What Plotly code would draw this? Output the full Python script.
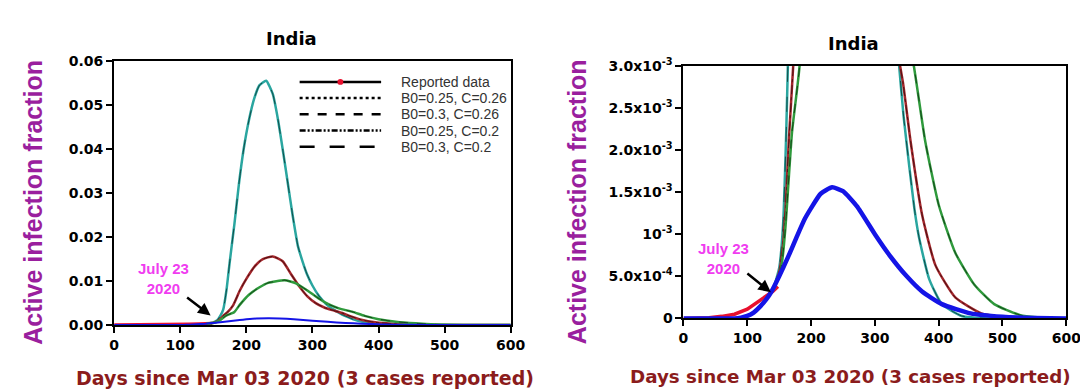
import plotly.graph_objects as go

# ---------------- data ----------------
reported_days = [0, 20, 40, 60, 80, 100, 113, 128, 140, 148]
reported_vals = [0, 2e-6, 8e-6, 2.5e-5, 5e-5, 1.1e-4, 1.8e-4, 2.5e-4, 3.2e-4, 3.8e-4]

blue_days = [0, 80, 90, 100, 110, 120, 130, 138, 150, 164, 177, 190, 200, 215, 233, 250, 272, 300, 323, 350, 374, 405, 450, 500, 550, 600]
blue_vals = [0, 0, 1e-5, 3e-5, 7e-5, 1.4e-4, 2.3e-4, 3.2e-4, 5e-4, 7.3e-4, 9.6e-4, 1.18e-3, 1.31e-3, 1.48e-3, 1.556e-3, 1.51e-3, 1.33e-3, 1.0e-3, 7.5e-4, 5e-4, 3.2e-4, 1.7e-4, 6e-5, 2e-5, 5e-6, 0]

teal_days = [140, 150, 156, 161, 165, 170, 175, 182, 189, 196, 204, 212, 220, 230, 240, 248, 256, 263, 270, 278, 285, 292, 300, 310, 320, 330, 338, 345, 354, 362, 369, 385, 405, 436, 480, 600]
teal_vals = [3.3e-4, 6e-4, 1.1e-3, 2.2e-3, 3.5e-3, 8e-3, 0.0145, 0.023, 0.0323, 0.040, 0.0466, 0.0515, 0.0545, 0.0555, 0.0525, 0.0466, 0.039, 0.032, 0.025, 0.018, 0.0145, 0.0115, 0.0090, 0.0066, 0.0049, 0.0037, 0.003, 0.0024, 0.0018, 0.0013, 9.7e-4, 4.7e-4, 1.7e-4, 3e-5, 0, 0]

brown_days = [140, 150, 155, 160, 165, 172, 180, 190, 200, 213, 225, 240, 255, 268, 280, 292, 305, 318, 330, 344, 356, 374, 395, 426, 467, 520, 600]
brown_vals = [3.3e-4, 5.5e-4, 8e-4, 1.3e-3, 2.1e-3, 3e-3, 4.5e-3, 7.8e-3, 0.0105, 0.0134, 0.015, 0.0156, 0.0145, 0.0115, 0.0088, 0.0066, 0.0050, 0.0040, 0.0034, 0.0028, 0.0021, 1.23e-3, 6.3e-4, 2.5e-4, 6e-5, 0, 0]

green_days = [140, 150, 155, 160, 170, 182, 190, 204, 220, 233, 258, 275, 293, 310, 325, 340, 361, 379, 400, 426, 456, 487, 528, 580, 600]
green_vals = [3.3e-4, 5e-4, 7e-4, 1.1e-3, 2.2e-3, 3.0e-3, 4.6e-3, 6.9e-3, 8.6e-3, 9.6e-3, 0.0102, 0.0095, 0.0078, 0.006, 0.0047, 0.0038, 0.003, 2.1e-3, 1.35e-3, 7.8e-4, 4e-4, 1.7e-4, 4e-5, 0, 0]

legend_labels = ["Reported data", "B0=0.25, C=0.26", "B0=0.3, C=0.26", "B0=0.25, C=0.2", "B0=0.3, C=0.2"]
legend_dashes = ["solid", "dot", "dash", "6px,2px,2px,2px,2px,2px", "longdash"]

x_ticks = [0, 100, 200, 300, 400, 500, 600]
left_y_ticks = [0, 0.01, 0.02, 0.03, 0.04, 0.05, 0.06]
right_y_ticks = [0, 5e-4, 1e-3, 1.5e-3, 2e-3, 2.5e-3, 3e-3]
right_y_text = ["0", "5.0x10<sup>-4</sup>", "10<sup>-3</sup>", "1.5x10<sup>-3</sup>",
                "2.0x10<sup>-3</sup>", "2.5x10<sup>-3</sup>", "3.0x10<sup>-3</sup>"]

title_text = "India"
x_title = "Days since Mar 03 2020 (3 cases reported)"
y_title = "Active infection fraction"
note_text = "July 23<br>2020"

# ---------------- styling ----------------
FONT = "Liberation Sans, Arial, sans-serif"
WIDE = "DejaVu Sans, Liberation Sans, sans-serif"
TEAL = "#2aa6a0"
BROWN = "#a3262b"
GREEN = "#2f9a3c"
BLUE = "#1414e6"
RED = "#e8102e"

fig = go.Figure()

models = [
    (teal_days, teal_vals, TEAL, "longdash"),
    (brown_days, brown_vals, BROWN, "dashdot"),
    (green_days, green_vals, GREEN, "dash"),
]

for xa, ya, blue_w in (("x", "y", 2), ("x2", "y2", 4.5)):
    fig.add_trace(go.Scatter(x=reported_days, y=reported_vals, mode="lines",
                             line=dict(color=RED, width=3.5), xaxis=xa, yaxis=ya, showlegend=False))
    for d, v, c, dash in models:
        fig.add_trace(go.Scatter(x=d, y=v, mode="lines", line=dict(color=c, width=2.5, shape="spline", smoothing=0.5),
                                 xaxis=xa, yaxis=ya, showlegend=False))
        fig.add_trace(go.Scatter(x=d, y=v, mode="lines",
                                 line=dict(color="rgba(0,0,0,0.55)", width=1, dash=dash, shape="spline", smoothing=0.5),
                                 xaxis=xa, yaxis=ya, showlegend=False))
    fig.add_trace(go.Scatter(x=blue_days, y=blue_vals, mode="lines",
                             line=dict(color=BLUE, width=blue_w, shape="spline", smoothing=0.5),
                             xaxis=xa, yaxis=ya, showlegend=False))

axis_common = dict(showline=True, linecolor="black", linewidth=2, mirror=True,
                   ticks="outside", ticklen=6, tickwidth=2, tickcolor="black",
                   showgrid=False, zeroline=False,
                   tickfont=dict(family=WIDE, size=14, color="black", weight="bold"))

fig.update_layout(
    width=1088, height=390,
    margin=dict(l=0, r=0, t=0, b=0),
    paper_bgcolor="white", plot_bgcolor="white",
    showlegend=False,
    xaxis=dict(domain=[0.0947, 0.466], range=[0, 600], tickvals=x_ticks, anchor="y", **axis_common),
    yaxis=dict(domain=[0.1744, 0.8846], range=[0, 0.06], tickvals=left_y_ticks, tickformat=".2f", anchor="x", **axis_common),
    xaxis2=dict(domain=[0.6278, 0.9862], range=[0, 600], tickvals=x_ticks, anchor="y2", **axis_common),
    yaxis2=dict(domain=[0.1923, 0.8718], range=[0, 0.003], tickvals=right_y_ticks, ticktext=right_y_text,
                anchor="x2", **axis_common),
)

ann = []
C = dict(xref="paper", yref="paper", showarrow=False, xanchor="center", yanchor="middle")
# titles
for cx, cy in ((0.261, 0.944), (0.787, 0.931)):
    ann.append(dict(text=title_text, x=cx, y=cy, font=dict(family=WIDE, size=18, color="black", weight="bold"), **C))
# axis titles
for cx, cy, fs in ((0.273, 0.033, 19), (0.784, 0.035, 18.3)):
    ann.append(dict(text=x_title, x=cx, y=cy, font=dict(family=WIDE, size=fs, color="#8b1c1c", weight="bold"), **C))
for cx, cy in ((0.0193, 0.505), (0.5275, 0.506)):
    ann.append(dict(text=y_title, x=cx, y=cy, textangle=-90,
                    font=dict(family=FONT, size=25, color="#9a1f9e", weight="bold"), **C))
# July 23 notes
ann.append(dict(text=note_text, x=0.1406, y=0.2987, font=dict(family=FONT, size=15, color="#f03cf0", weight="bold"), **C))
ann.append(dict(text="", x=146, y=0.0022, xref="x", yref="y", ax=-25, ay=-19, showarrow=True,
                arrowhead=2, arrowsize=1, arrowwidth=2.5, arrowcolor="black"))
ann.append(dict(text=note_text, x=0.6654, y=0.3526, font=dict(family=FONT, size=15, color="#f03cf0", weight="bold"), **C))
ann.append(dict(text="", x=137, y=3.1e-4, xref="x2", yref="y2", ax=-25, ay=-20, showarrow=True,
                arrowhead=2, arrowsize=1, arrowwidth=2.5, arrowcolor="black"))

# legend (drawn inside the left panel)
shapes = []
row_y = [67, 84, 101, 118, 135]
for i, (lab, dash) in enumerate(zip(legend_labels, legend_dashes)):
    py = 1 - row_y[i] / 390
    shapes.append(dict(type="line", xref="paper", yref="paper", x0=292 / 1088, x1=375 / 1088, y0=py, y1=py,
                       line=dict(color="black", width=2.5, dash=dash)))
    ann.append(dict(text=lab, x=393 / 1088, y=py, xref="paper", yref="paper", showarrow=False,
                    xanchor="left", yanchor="middle",
                    font=dict(family="Liberation Sans Narrow, Liberation Sans, sans-serif", size=14, color="#333333")))
# red marker on the "Reported data" legend line
mx, my = (292 + 375) / 2, row_y[0]
shapes.append(dict(type="circle", xref="paper", yref="paper",
                   x0=(mx - 3) / 1088, x1=(mx + 3) / 1088, y0=1 - (my + 3) / 390, y1=1 - (my - 3) / 390,
                   fillcolor=RED, line=dict(color=RED, width=0)))

fig.update_layout(annotations=ann, shapes=shapes)
fig.write_html("out.html")
